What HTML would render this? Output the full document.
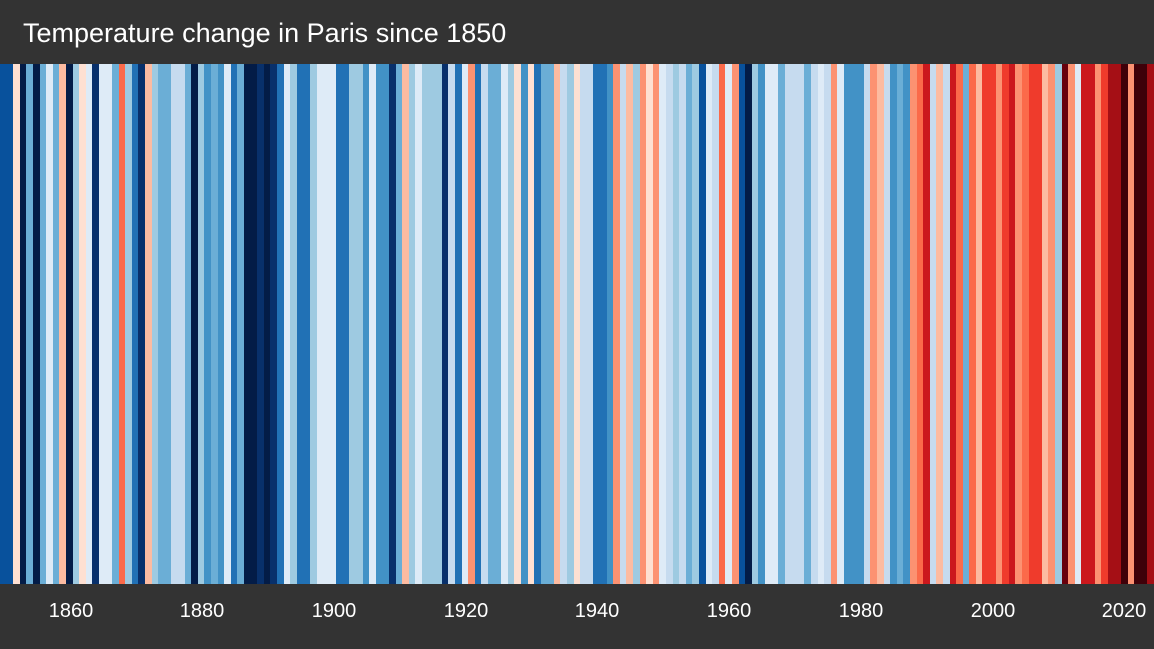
<!DOCTYPE html>
<html><head><meta charset="utf-8"><style>
html,body{margin:0;padding:0;background:#333;}
body{width:1154px;height:649px;position:relative;overflow:hidden;font-family:"Liberation Sans",sans-serif;}
#title{position:absolute;left:23px;top:18px;font-size:27px;color:#fff;white-space:nowrap;}
#stripes{position:absolute;left:0;top:64px;width:1154px;height:520px;display:flex;}
#stripes div{flex:1 1 0;height:100%;}
.lab{position:absolute;top:600px;font-size:20px;color:#fff;width:80px;text-align:center;}
</style></head><body>
<div id="title">Temperature change in Paris since 1850</div>
<div id="stripes"></div>
<div class="lab" style="left:31px">1860</div>
<div class="lab" style="left:162px">1880</div>
<div class="lab" style="left:294px">1900</div>
<div class="lab" style="left:426px">1920</div>
<div class="lab" style="left:557px">1940</div>
<div class="lab" style="left:689px">1960</div>
<div class="lab" style="left:821px">1980</div>
<div class="lab" style="left:953px">2000</div>
<div class="lab" style="left:1084px">2020</div>
<script>
var P={N:"#031c47",B9:"#08306b",B8:"#08519c",B7:"#2171b5",B6:"#4292c6",B5:"#6baed6",B4:"#9ecae1",B3:"#c6dbef",B2:"#deebf7",R2:"#fee0d2",R3:"#fcbba1",R4:"#fc9272",R5:"#fb6a4a",R6:"#ef3b2c",R7:"#cb181d",R8:"#a50f15",R9:"#67000d",RX:"#3f0009"};
var s="B8 B8 R2 N B5 N B5 B2 B5 R3 N B4 R2 B2 B9 B2 B2 B5 R5 B4 B7 B9 R3 B4 B5 B5 B3 B3 B5 N "+
"B4 B6 B5 B6 B2 B7 B5 N N B9 N B9 B7 B2 B4 B7 B7 B4 B2 B2 B2 B7 B7 B4 B4 B6 B2 B6 B6 B9 "+
"B5 R3 B4 B2 B4 B4 B4 B9 B3 B7 B2 R4 B7 B3 B5 B5 B2 B4 R2 B6 R2 B7 B5 B5 R3 B3 B4 R2 B3 B3 "+
"B7 B7 B6 R4 B3 R3 B4 R4 R2 R4 B2 B3 B4 B3 B5 B4 B8 B2 B3 R5 B2 R4 B8 N B4 B6 B2 B2 B5 B3 B3 "+
"B3 B5 B3 B2 B3 R4 B2 B6 B6 B6 B3 R4 R3 B3 B6 B5 B6 R4 R5 R7 B3 R3 B3 R7 R5 B5 R5 R3 R6 R6 R4 "+
"R6 R7 R4 R5 R6 R6 R3 R4 B4 R9 R4 B2 R7 R7 R4 R6 R8 R8 RX R4 RX RX R8";
var a=s.split(" "),h="";for(var i=0;i<a.length;i++)h+='<div style="background:'+P[a[i]]+'"></div>';
document.getElementById("stripes").innerHTML=h;
</script>
</body></html>
